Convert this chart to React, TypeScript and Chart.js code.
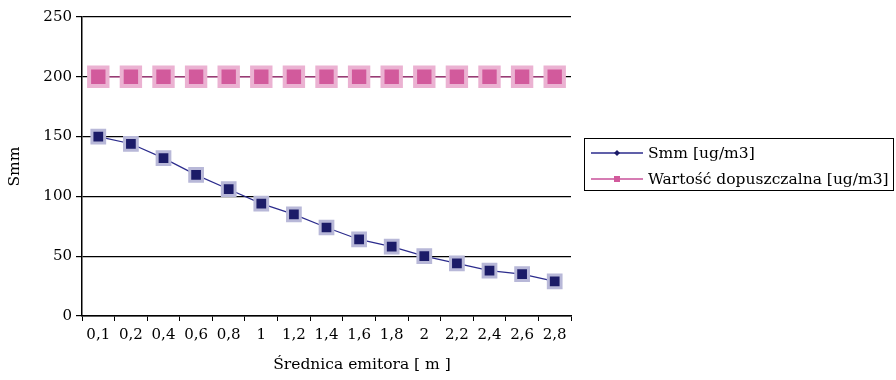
import React, { useEffect, useRef } from "react";
import { Chart, registerables } from "chart.js";

Chart.register(...registerables);

const categories = ["0,1", "0,2", "0,4", "0,6", "0,8", "1", "1,2", "1,4", "1,6", "1,8", "2", "2,2", "2,4", "2,6", "2,8"];
const smmValues = [150, 144, 132, 118, 106, 94, 85, 74, 64, 58, 50, 44, 38, 35, 29];
const limitValues = [200, 200, 200, 200, 200, 200, 200, 200, 200, 200, 200, 200, 200, 200, 200];
const yTicks = [0, 50, 100, 150, 200, 250];
const seriesNames = ["Smm [ug/m3]", "Wartość dopuszczalna [ug/m3]"];
const xTitle = "Średnica emitora [ m ]";
const yTitle = "Smm";

const FONT = "'DejaVu Serif', serif";
const FS = 15;
const FS_T = 15.5;
const NAVY = "#1c1c68";
const NAVY_LINE = "#2b2b8c";
const NAVY_HALO = "#b8b8d8";
const PINK = "#d25a9c";
const PINK_LINE = "#c8509a";
const PINK_HALO = "#ebb2d2";

export default function App() {
  const ref = useRef<HTMLCanvasElement>(null);
  useEffect(() => {
    if (!ref.current) return;
    const chart = new Chart(ref.current, {
      type: "line",
      data: {
        labels: categories,
        datasets: [
          {
            label: seriesNames[1],
            data: limitValues,
            borderColor: PINK_LINE,
            borderWidth: 1.2,
            pointStyle: "rect",
            pointRadius: 13,
            pointBackgroundColor: PINK,
            pointBorderColor: PINK_HALO,
            pointBorderWidth: 4,
            order: 2,
          },
          {
            label: seriesNames[0],
            data: smmValues,
            borderColor: NAVY_LINE,
            borderWidth: 1.2,
            pointStyle: "rect",
            pointRadius: 9,
            pointBackgroundColor: NAVY,
            pointBorderColor: NAVY_HALO,
            pointBorderWidth: 3,
            order: 1,
          },
        ],
      },
      options: {
        animation: false,
        responsive: false,
        maintainAspectRatio: false,
        layout: { padding: { top: 16, right: 325, left: 0, bottom: 0 } },
        plugins: { legend: { display: false }, tooltip: { enabled: false } },
        scales: {
          x: {
            offset: true,
            grid: { offset: true, drawOnChartArea: false, drawTicks: true, tickLength: 5, color: "#000" },
            border: { color: "#000", width: 1.5 },
            ticks: { color: "#000", font: { family: FONT, size: FS }, padding: 5, maxRotation: 0, autoSkip: false },
            title: { display: false },
            afterFit: (s: any) => { s.height = 64; },
          },
          y: {
            min: 0,
            max: 250,
            afterBuildTicks: (s: any) => { s.ticks = yTicks.map((v) => ({ value: v })); },
            grid: { color: "#000", lineWidth: 1.2, tickLength: 6, drawTicks: true },
            border: { color: "#000", width: 1.5 },
            ticks: { color: "#000", font: { family: FONT, size: FS }, padding: 4 },
            title: { display: true, text: yTitle, color: "#000", font: { family: FONT, size: FS_T }, padding: { top: 6, bottom: 0 } },
            afterFit: (s: any) => { s.width = 82; },
          },
        },
      },
    });
    return () => chart.destroy();
  }, []);

  const legendRow = (color: string, marker: React.ReactNode, text: string) => (
    <div style={{ display: "flex", alignItems: "center", height: 26 }}>
      <svg width="52" height="12" style={{ marginRight: 5 }}>
        <line x1="0" y1="6" x2="52" y2="6" stroke={color} strokeWidth="1.3" />
        {marker}
      </svg>
      <span>{text}</span>
    </div>
  );

  return (
    <div style={{ position: "absolute", left: 0, top: 0, width: 896, height: 380, background: "#fff" }}>
      <canvas ref={ref} width={896} height={380} style={{ display: "block" }} />
      <div
        style={{
          position: "absolute",
          left: 262,
          width: 200,
          top: 353,
          textAlign: "center",
          fontFamily: FONT,
          fontSize: FS_T,
          lineHeight: "22px",
          color: "#000",
          whiteSpace: "nowrap",
        }}
      >
        {xTitle}
      </div>
      <div
        style={{
          position: "absolute",
          left: 584,
          top: 138,
          width: 310,
          height: 53,
          border: "1px solid #000",
          boxSizing: "border-box",
          padding: "1px 0 0 6px",
          fontFamily: FONT,
          fontSize: FS_T,
          color: "#000",
          lineHeight: "26px",
          whiteSpace: "nowrap",
          overflow: "hidden",
        }}
      >
        {legendRow(NAVY_LINE, <polygon points="26,3 29,6 26,9 23,6" fill={NAVY} />, seriesNames[0])}
        {legendRow(PINK_LINE, <rect x="23" y="3" width="6" height="6" fill={PINK} />, seriesNames[1])}
      </div>
    </div>
  );
}
